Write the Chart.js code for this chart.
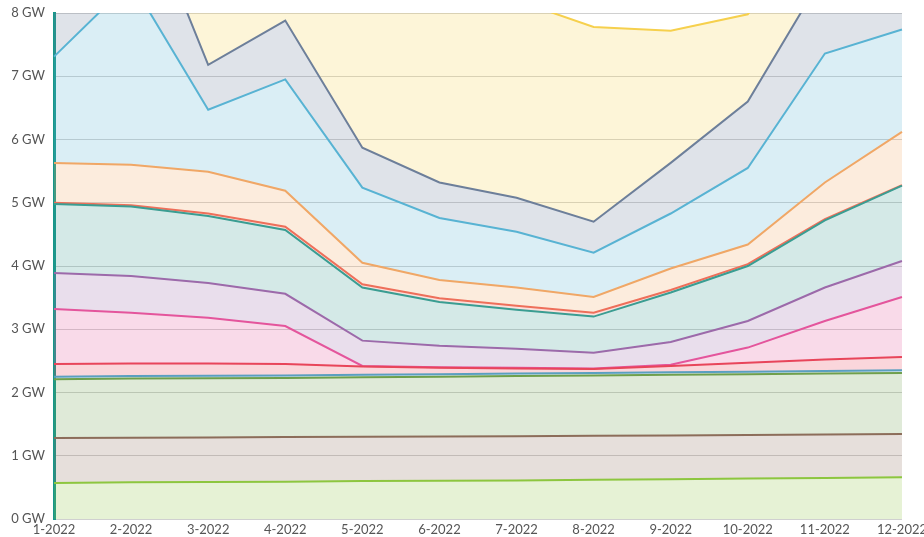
<!DOCTYPE html>
<html>
<head>
<meta charset="utf-8">
<script src="https://cdn.jsdelivr.net/npm/chart.js@4.4.1/dist/chart.umd.min.js"></script>
<style>
  html,body{margin:0;padding:0;background:#fff;overflow:hidden;}
  .wrap{width:930px;height:537px;position:relative;}
</style>
</head>
<body>
<div class="wrap"><canvas id="cap"></canvas></div>
<script>
/* -------------------- Data (GW per layer, stacked) -------------------- */
const months = ['1-2022','2-2022','3-2022','4-2022','5-2022','6-2022','7-2022','8-2022','9-2022','10-2022','11-2022','12-2022'];
const yTicks = [0,1,2,3,4,5,6,7,8];

const layer1  = [0.57,0.58,0.585,0.59,0.60,0.605,0.61,0.62,0.63,0.64,0.65,0.66];
const layer2  = [0.71,0.705,0.705,0.705,0.70,0.70,0.70,0.695,0.69,0.69,0.685,0.685];
const layer3  = [0.93,0.935,0.935,0.935,0.94,0.945,0.95,0.955,0.96,0.96,0.965,0.965];
const layer4  = [0.04,0.04,0.04,0.04,0.04,0.04,0.04,0.04,0.04,0.04,0.04,0.04];
const layer5  = [0.20,0.20,0.195,0.18,0.13,0.10,0.08,0.06,0.10,0.14,0.18,0.21];
const layer6  = [0.87,0.80,0.72,0.60,0.01,0.01,0.01,0.01,0.02,0.24,0.61,0.95];
const layer7  = [0.57,0.58,0.55,0.51,0.40,0.34,0.30,0.25,0.36,0.42,0.53,0.57];
const layer8  = [1.09,1.10,1.06,1.01,0.84,0.69,0.62,0.57,0.78,0.87,1.06,1.19];
const layer9  = [0.02,0.02,0.04,0.05,0.05,0.06,0.06,0.06,0.04,0.03,0.02,0.01];
const layer10 = [0.63,0.64,0.66,0.57,0.34,0.29,0.29,0.25,0.34,0.31,0.58,0.84];
const layer11 = [1.68,2.90,0.98,1.76,1.19,0.98,0.88,0.70,0.87,1.21,2.04,1.62];
const layer12 = [2.19,1.70,0.71,0.93,0.63,0.56,0.54,0.49,0.80,1.05,1.28,1.26];
const layer13 = [1.50,1.30,3.32,2.14,3.63,3.68,3.12,3.08,2.09,1.38,0.86,1.50];

const layers = [layer1,layer2,layer3,layer4,layer5,layer6,layer7,layer8,layer9,layer10,layer11,layer12,layer13];
const lineColors = ['#8dc63f','#8c6d5a','#6f9f4c','#5a9fc0','#e8455a','#e4559c','#9c6aaa','#3a9d92','#ee6f5a','#f0a766','#58b3d3','#6d7f9a','#f6d04d'];

/* -------------------- Helpers -------------------- */
function alpha(hex,a){
  const n=parseInt(hex.slice(1),16);
  return `rgba(${(n>>16)&255},${(n>>8)&255},${n&255},${a})`;
}

const datasets = layers.map((d,i)=>({
  data:d,
  borderColor:lineColors[i],
  backgroundColor:alpha(lineColors[i],0.22),
  borderWidth:2,
  pointRadius:0,
  tension:0,
  fill:i===0?'origin':'-1'
}));

/* -------------------- Chart -------------------- */
new Chart(document.getElementById('cap'),{
  type:'line',
  data:{ labels:months, datasets },
  options:{
    responsive:true,
    maintainAspectRatio:false,
    animation:false,
    layout:{ padding:{ top:13, left:0, right:0, bottom:0 } },
    plugins:{ legend:{display:false}, tooltip:{enabled:false} },
    scales:{
      x:{
        offset:false,
        afterFit:s=>{ s.height=18; },
        grid:{ display:false, drawTicks:false },
        border:{ display:false },
        ticks:{ color:'#555', font:{family:'Lato', size:13}, padding:3, maxRotation:0, autoSkip:false }
      },
      y:{
        stacked:true,
        z:1,
        min:0, max:8,
        afterBuildTicks:s=>{ s.ticks=yTicks.map(v=>({value:v})); },
        afterFit:s=>{ s.width=54; s.paddingTop=0; s.paddingBottom=0; },
        grid:{ color:'rgba(150,150,150,0.45)', lineWidth:1, drawTicks:false },
        border:{ color:'#16968a', width:3 },
        ticks:{ color:'#555', font:{family:'Lato', size:13}, padding:9, callback:v=>v+' GW' }
      }
    }
  }
});
</script>
</body>
</html>
